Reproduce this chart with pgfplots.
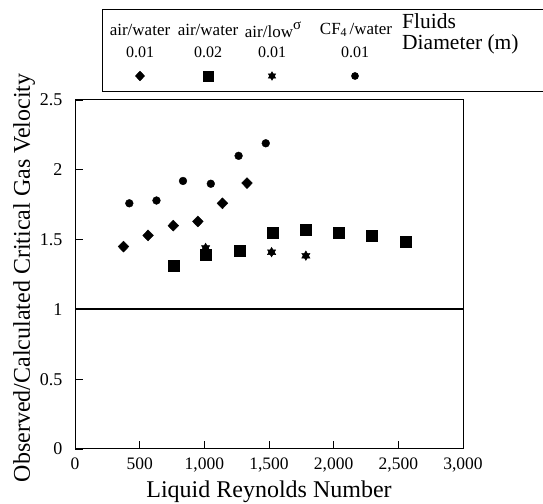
\documentclass[border=0pt]{standalone}
\usepackage{fontspec}
\setmainfont{Liberation Serif}
\usepackage{pgfplots}
\pgfplotsset{compat=1.18}

\pgfdeclareplotmark{hexstar*}{%
  \pgfpathmoveto{\pgfqpointpolar{90}{\pgfplotmarksize}}%
  \pgfpathlineto{\pgfqpointpolar{210}{\pgfplotmarksize}}%
  \pgfpathlineto{\pgfqpointpolar{330}{\pgfplotmarksize}}%
  \pgfpathclose
  \pgfpathmoveto{\pgfqpointpolar{270}{\pgfplotmarksize}}%
  \pgfpathlineto{\pgfqpointpolar{30}{\pgfplotmarksize}}%
  \pgfpathlineto{\pgfqpointpolar{150}{\pgfplotmarksize}}%
  \pgfpathclose
  \pgfusepathqfillstroke
}

\begin{document}
\begin{tikzpicture}[x=1pt,y=1pt]
\path[use as bounding box] (0,0) rectangle (543,503);
\begin{axis}[
  at={(75pt,54pt)}, anchor=south west, scale only axis,
  width=388pt, height=349pt,
  xmin=0, xmax=3000, ymin=0, ymax=2.5,
  xtick={0,500,...,3000}, ytick={0,0.5,1,1.5,2,2.5},
  tick pos=left, tick align=inside, major tick length=8pt,
  axis line style={line width=1pt},
  every tick/.style={black, line width=0.9pt},
  /pgf/number format/assume math mode=true,
  /pgf/number format/1000 sep={,},
  /pgf/number format/fixed,
  xticklabel style={font=\fontsize{17.5}{19}\selectfont, yshift=-5pt},
  yticklabel style={font=\fontsize{18}{20}\selectfont, xshift=-9pt},
  xlabel={Liquid Reynolds Number},
  ylabel={Observed/Calculated Critical Gas Velocity},
  label style={font=\fontsize{24}{28}\selectfont},
  xlabel style={at={(axis description cs:0.5,-0.123)}, anchor=center},
  ylabel style={at={(axis description cs:-0.131,0.49)}, anchor=center},
  clip=false,
]
\addplot[black, line width=2pt] coordinates {(0,1) (3000,1)};
% air/water 0.01
\addplot[only marks, mark=diamond*, mark size=5.5pt, mark options={xscale=1.3}, black] coordinates {
  (375,1.45) (565,1.53) (760,1.60) (950,1.63) (1140,1.76) (1330,1.905)};
% air/low sigma 0.01
\addplot[only marks, mark=hexstar*, mark size=4.8pt, black] coordinates {
  (1010,1.44) (1520,1.41) (1785,1.385)};
% air/water 0.02
\addplot[only marks, mark=square*, mark size=5.5pt, black] coordinates {
  (760,1.31) (1010,1.39) (1270,1.42) (1525,1.55) (1785,1.57) (2040,1.55) (2295,1.525) (2555,1.485)};
% CF4/water 0.01
\addplot[only marks, mark=*, mark size=3.9pt, black] coordinates {
  (420,1.76) (630,1.78) (835,1.92) (1050,1.90) (1265,2.10) (1475,2.19)};
\end{axis}

% legend markers through an axis
\begin{axis}[
  at={(102pt,411pt)}, anchor=south west, scale only axis,
  width=441pt, height=82pt,
  xmin=102, xmax=543, ymin=-92, ymax=-10,
  hide axis, clip=false,
]
\addplot[only marks, mark=diamond*, mark size=4.8pt, mark options={xscale=1.3}, black] coordinates {(140,-76)};
\addplot[only marks, mark=square*, mark size=4.8pt, black] coordinates {(208,-76)};
\addplot[only marks, mark=hexstar*, mark size=4.3pt, black] coordinates {(272,-76)};
\addplot[only marks, mark=*, mark size=3.6pt, black] coordinates {(355,-76)};
\end{axis}

\draw[line width=1pt] (543,493) -- (102,493) -- (102,411) -- (543,411);
\begin{scope}[every node/.style={font=\fontsize{17}{19}\selectfont, inner sep=0pt}]
\node at (140,473) {air/water};
\node at (208,473) {air/water};
\node at (273,473) {air/low\raisebox{0.45em}{\fontsize{15}{17}\selectfont σ}};
\node at (356,473) {CF\raisebox{-0.15em}{\fontsize{12}{14}\selectfont 4}\,/water};
\end{scope}
\begin{scope}[every node/.style={font=\fontsize{16}{18}\selectfont, inner sep=0pt}]
\node at (140,451) {0.01};
\node at (208,451) {0.02};
\node at (272,451) {0.01};
\node at (355,451) {0.01};
\end{scope}
\node[anchor=west, inner sep=0pt, font=\fontsize{21.5}{24}\selectfont] at (402,482) {Fluids};
\node[anchor=west, inner sep=0pt, font=\fontsize{21.5}{24}\selectfont] at (402,459) {Diameter (m)};
\end{tikzpicture}
\end{document}
